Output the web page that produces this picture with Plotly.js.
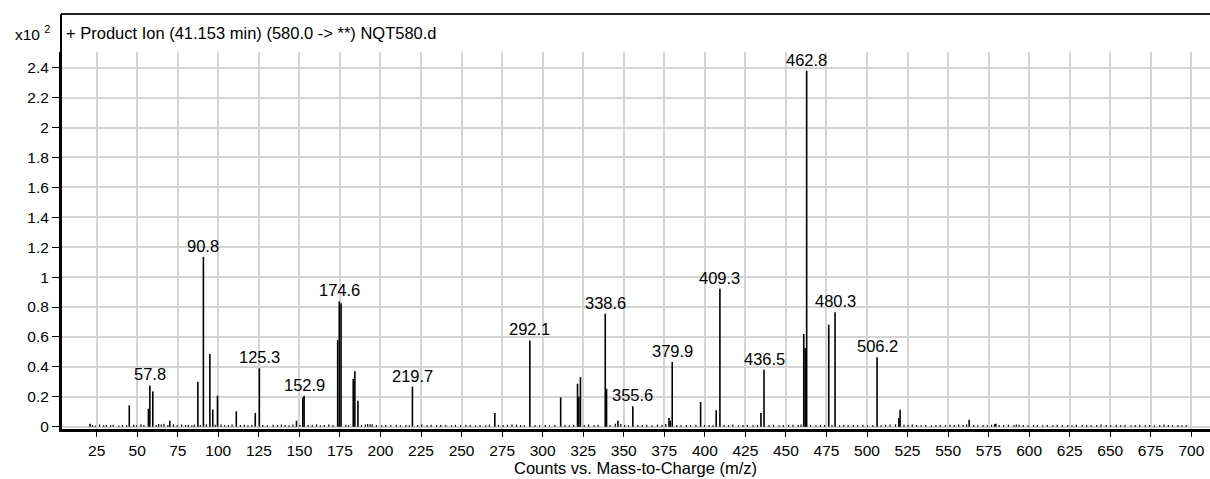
<!DOCTYPE html>
<html>
<head>
<meta charset="utf-8">
<script src="https://cdn.plot.ly/plotly-3.0.1.min.js"></script>
<style>html,body{margin:0;padding:0;background:#fff;}#chart{width:1210px;height:479px;}</style>
</head>
<body>
<div id="chart"></div>
<script>
// Main ion peaks (m/z, counts x10^2)
const peakMz = [
  20.9, 45.1, 56.9, 57.8, 59.6, 70.1, 87.4, 90.8, 94.8, 96.6,
  99.5, 111.1, 122.8, 125.3, 148.2, 152.1, 152.9, 173.6, 174.6, 175.7,
  183.2, 184.2, 186.1, 219.7, 270.5, 292.1, 311.1, 321.5, 322.3, 323.3,
  338.6, 339.4, 346.4, 355.6, 377.9, 378.6, 379.9, 397.4, 407.0, 409.3,
  434.6, 436.5, 461.0, 461.9, 462.8, 476.4, 480.3, 506.2, 519.6, 520.4,
  563.0, 579.4
];
const peakInt = [
  0.02, 0.143, 0.12, 0.276, 0.236, 0.04, 0.30, 1.135, 0.486, 0.114,
  0.207, 0.103, 0.092, 0.39, 0.04, 0.196, 0.207, 0.58, 0.838, 0.826,
  0.319, 0.37, 0.174, 0.268, 0.092, 0.577, 0.196, 0.287, 0.20, 0.332,
  0.756, 0.254, 0.04, 0.136, 0.058, 0.04, 0.433, 0.165, 0.11, 0.923,
  0.092, 0.381, 0.62, 0.526, 2.38, 0.682, 0.765, 0.464, 0.058, 0.114,
  0.047, 0.02
];
// Baseline noise sticks [m/z, counts x10^2]
const noisePeaks = [
  [22.4,0.012],[24.1,0.008],[26.8,0.014],[29.3,0.01],[31.0,0.012],[33.6,0.009],[35.2,0.013],[38.7,0.008],[40.9,0.012],[43.5,0.01],
  [47.8,0.013],[49.6,0.009],[52.3,0.016],[54.1,0.011],[61.7,0.012],[63.2,0.018],[64.8,0.014],[66.5,0.02],[68.9,0.012],[72.3,0.016],
  [74.6,0.01],[77.4,0.015],[79.8,0.011],[81.5,0.013],[83.7,0.009],[85.2,0.014],[88.9,0.012],[92.6,0.016],[98.1,0.013],[101.7,0.015],
  [103.9,0.01],[106.2,0.012],[108.5,0.014],[113.6,0.011],[116.0,0.013],[118.3,0.01],[120.7,0.012],[127.4,0.011],[130.2,0.009],[133.8,0.013],
  [136.5,0.011],[138.9,0.014],[141.2,0.012],[143.6,0.01],[146.0,0.015],[150.3,0.012],[155.4,0.011],[157.9,0.013],[160.6,0.015],[162.9,0.01],
  [165.3,0.012],[168.1,0.014],[170.7,0.011],[178.6,0.013],[180.4,0.01],[188.3,0.012],[190.7,0.015],[192.1,0.018],[193.6,0.017],[194.9,0.016],
  [197.5,0.011],[200.8,0.01],[203.2,0.012],[206.4,0.009],[209.7,0.011],[212.3,0.01],[215.6,0.012],[217.8,0.009],[222.9,0.012],[225.4,0.014],
  [228.7,0.011],[231.2,0.013],[234.6,0.01],[237.1,0.012],[240.3,0.011],[243.8,0.009],[246.2,0.012],[249.5,0.01],[252.7,0.013],[255.3,0.011],
  [258.6,0.01],[261.4,0.012],[264.9,0.009],[267.2,0.014],[272.8,0.012],[275.6,0.011],[278.3,0.013],[281.1,0.015],[283.9,0.014],[286.4,0.012],
  [288.7,0.01],[295.3,0.012],[298.1,0.01],[301.6,0.012],[304.2,0.009],[307.5,0.011],[313.8,0.012],[316.4,0.01],[319.1,0.013],[325.6,0.012],
  [328.4,0.014],[331.7,0.011],[334.2,0.013],[341.5,0.012],[344.8,0.02],[348.2,0.018],[350.6,0.012],[352.9,0.01],[358.7,0.012],[361.4,0.011],
  [364.2,0.013],[367.5,0.01],[370.8,0.014],[373.6,0.012],[375.9,0.018],[382.7,0.012],[385.3,0.01],[388.6,0.012],[391.2,0.011],[394.5,0.013],
  [399.8,0.011],[402.6,0.012],[405.1,0.01],[411.9,0.012],[414.6,0.011],[417.3,0.013],[420.8,0.01],[423.5,0.012],[426.2,0.011],[429.7,0.009],
  [432.4,0.012],[439.6,0.011],[442.3,0.013],[445.8,0.01],[448.4,0.012],[451.7,0.011],[454.3,0.013],[457.6,0.012],[459.4,0.014],[465.2,0.012],
  [468.5,0.01],[471.3,0.013],[473.9,0.011],[478.4,0.012],[483.1,0.01],[485.7,0.012],[488.4,0.009],[491.6,0.011],[494.2,0.01],[497.5,0.012],
  [500.3,0.009],[503.6,0.011],[508.7,0.01],[511.4,0.013],[514.2,0.014],[517.6,0.016],[522.8,0.013],[525.3,0.011],[527.9,0.014],[530.6,0.012],
  [533.4,0.01],[536.2,0.012],[539.7,0.009],[542.5,0.011],[545.1,0.012],[548.4,0.01],[551.2,0.013],[553.8,0.011],[556.5,0.014],[559.3,0.012],
  [561.4,0.016],[565.7,0.012],[568.3,0.01],[571.6,0.012],[574.2,0.009],[576.8,0.013],[578.7,0.016],[581.5,0.012],[584.3,0.011],[587.2,0.013],
  [590.6,0.012],[592.1,0.014],[593.8,0.013],[596.4,0.012],[599.3,0.01],[602.7,0.012],[605.1,0.011],[608.4,0.009],[611.2,0.012],[614.6,0.01],
  [617.3,0.013],[620.5,0.011],[623.8,0.012],[626.4,0.01],[629.1,0.013],[632.7,0.012],[635.4,0.011],[638.2,0.01],[641.6,0.012],[644.3,0.014],
  [647.5,0.012],[650.2,0.01],[653.7,0.011],[656.4,0.009],[659.1,0.012],[662.8,0.01],[665.4,0.012],[668.2,0.011],[671.6,0.009],[674.3,0.011],
  [677.2,0.01],[680.5,0.012],[683.1,0.014],[685.8,0.012],[688.4,0.01],[691.7,0.011],[694.2,0.009],[696.8,0.01]
];
// Labelled peaks
const labelMz = [57.8, 90.8, 125.3, 152.9, 174.6, 219.7, 292.1, 338.6, 355.6, 379.9, 409.3, 436.5, 462.8, 480.3, 506.2];
const xTicks = [25,50,75,100,125,150,175,200,225,250,275,300,325,350,375,400,425,450,475,500,525,550,575,600,625,650,675,700];

const chartTitle = '+ Product Ion (41.153 min) (580.0 -> **) NQT580.d';
const xTitle = 'Counts vs. Mass-to-Charge (m/z)';

function sticks(mzs, ints) {
  const x = [], y = [];
  for (let i = 0; i < mzs.length; i++) {
    x.push(mzs[i], mzs[i], null);
    y.push(0, ints[i], null);
  }
  return {x, y};
}
const noiseS = sticks(noisePeaks.map(p => p[0]), noisePeaks.map(p => p[1]));
const mainS = sticks(peakMz, peakInt);

const traces = [
  {type:'scatter', mode:'lines', x: noiseS.x, y: noiseS.y, line:{color:'#000', width:1.2}, hoverinfo:'skip'},
  {type:'scatter', mode:'lines', x: mainS.x, y: mainS.y, line:{color:'#000', width:1.6}, hoverinfo:'skip'}
];

const FONT = 'Liberation Sans, Arial, sans-serif';
const TXT = 16.5;
const TICK = 15.5;
const annotations = labelMz.map(m => {
  const i = peakMz.indexOf(m);
  return {x: m, y: peakInt[i], xref:'x', yref:'y', text: m.toFixed(1), showarrow:false,
          xanchor:'center', yanchor:'bottom', yshift:0, font:{family:FONT, size:TXT, color:'#000'}};
});
annotations.push({xref:'paper', yref:'paper', x:0, y:1.0503, xanchor:'left', yanchor:'middle', xshift:3,
  text: chartTitle, showarrow:false, font:{family:FONT, size:TXT, color:'#000'}});
annotations.push({xref:'paper', yref:'paper', x:0, y:1.0503, xanchor:'right', yanchor:'middle', xshift:-9,
  text: 'x10 <sup>2</sup>', showarrow:false, font:{family:FONT, size:15.5, color:'#000'}});

const layout = {
  width:1210, height:479,
  margin:{l:61, r:0, t:52, b:50, pad:0},
  paper_bgcolor:'#fff', plot_bgcolor:'#fff',
  showlegend:false,
  font:{family:FONT, size:TICK, color:'#000'},
  xaxis:{
    range:[3.0, 711.5], tickmode:'array', tickvals:xTicks, ticktext:xTicks.map(String),
    ticks:'outside', ticklen:5, tickwidth:1, tickcolor:'#000',
    showline:true, linecolor:'#000', linewidth:3,
    showgrid:true, gridcolor:'#d4d4d4', gridwidth:2, zeroline:false,
    tickfont:{family:FONT, size:TICK, color:'#000'},
    title:{text:xTitle, font:{family:FONT, size:TXT, color:'#000'}, standoff:5}
  },
  yaxis:{
    range:[-0.0154, 2.505], tick0:0, dtick:0.2,
    ticks:'outside', ticklen:7, tickwidth:1, tickcolor:'#000',
    showline:true, linecolor:'#000', linewidth:2,
    showgrid:true, gridcolor:'#d4d4d4', gridwidth:2,
    zeroline:true, zerolinecolor:'#d4d4d4', zerolinewidth:2,
    tickfont:{family:FONT, size:TICK, color:'#000'}
  },
  shapes:[
    {type:'line', xref:'paper', yref:'paper', x0:0, x1:1, y0:1.1005, y1:1.1005, line:{color:'#222', width:2}},
    {type:'line', xref:'paper', yref:'paper', x0:0, x1:0, y0:0, y1:1.1005, line:{color:'#000', width:2}}
  ],
  annotations: annotations
};

Plotly.newPlot('chart', traces, layout, {displayModeBar:false, staticPlot:true});
</script>
</body>
</html>
